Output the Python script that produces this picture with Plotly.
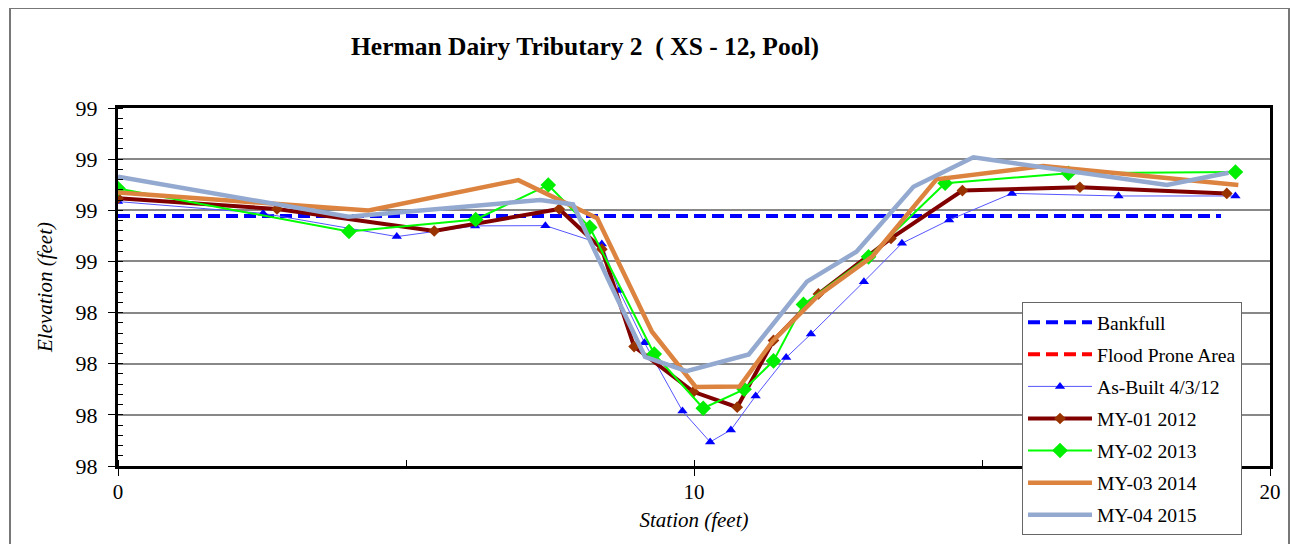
import plotly.graph_objects as go

# ---- data (station in feet, elevation in feet) ----
bankfull_x = [0, 19.15]
bankfull_y = [98.778, 98.778]

# flood prone elevation lies above the plotted range (not visible in the chart)
flood_x = [0, 19.15]
flood_y = [99.66, 99.66]

asbuilt_x = [0, 2.52, 4.84, 6.20, 7.42, 8.40, 8.70, 9.14, 9.80, 10.28, 10.64, 11.07,
             11.60, 12.03, 12.95, 13.61, 14.43, 15.52, 17.37, 19.40]
asbuilt_y = [98.834, 98.788, 98.697, 98.739, 98.740, 98.668, 98.486, 98.282, 98.015,
             97.894, 97.941, 98.074, 98.224, 98.316, 98.521, 98.671, 98.762, 98.866,
             98.856, 98.856]

my01_x = [0, 2.76, 5.49, 7.66, 8.40, 8.96, 9.99, 10.75, 11.38, 12.16, 13.42, 14.66, 16.70, 19.25]
my01_y = [98.847, 98.805, 98.719, 98.805, 98.648, 98.267, 98.090, 98.030, 98.291, 98.473,
          98.690, 98.877, 98.890, 98.866]

my02_x = [0, 4.01, 6.21, 7.47, 8.19, 9.31, 10.16, 10.87, 11.38, 11.90, 13.03, 14.36, 16.50, 19.40]
my02_y = [98.885, 98.717, 98.764, 98.899, 98.733, 98.238, 98.026, 98.100, 98.211, 98.432,
          98.618, 98.906, 98.945, 98.950]

my03_x = [0, 4.35, 6.95, 8.32, 9.27, 10.03, 10.79, 11.37, 12.15, 13.10, 14.21, 16.06, 19.45]
my03_y = [98.870, 98.799, 98.918, 98.769, 98.325, 98.109, 98.111, 98.289, 98.465, 98.620,
          98.921, 98.973, 98.899]

my04_x = [0, 4.00, 7.33, 7.90, 8.57, 9.15, 9.87, 10.95, 11.96, 12.82, 13.81, 14.85, 18.21, 19.28]
my04_y = [98.931, 98.775, 98.840, 98.823, 98.501, 98.227, 98.171, 98.236, 98.521, 98.638,
          98.892, 99.007, 98.899, 98.947]

y_ticks = [97.8, 98.0, 98.2, 98.4, 98.6, 98.8, 99.0, 99.2]
y_tick_labels = ["98", "98", "98", "98", "99", "99", "99", "99"]
x_ticks = [0, 10, 20]

FONT = "Liberation Serif, Times New Roman, DejaVu Serif, serif"

fig = go.Figure()

fig.add_trace(go.Scatter(x=bankfull_x, y=bankfull_y, mode="lines", name="Bankfull",
                         line=dict(color="#0000FF", width=4, dash="12px,6px"),
                         legendgroup="a"))
fig.add_trace(go.Scatter(x=flood_x, y=flood_y, mode="lines", name="Flood Prone Area",
                         line=dict(color="#FF0000", width=4, dash="12px,6px"),
                         legendgroup="b"))
fig.add_trace(go.Scatter(x=asbuilt_x, y=asbuilt_y, mode="lines+markers", name="As-Built 4/3/12",
                         line=dict(color="#5555FF", width=1),
                         marker=dict(symbol="triangle-up", size=9, color="#0000FF"),
                         legendgroup="c"))
fig.add_trace(go.Scatter(x=my01_x, y=my01_y, mode="lines+markers", name="MY-01 2012",
                         line=dict(color="#800000", width=4),
                         marker=dict(symbol="diamond", size=9, color="#993300"),
                         legendgroup="d"))
fig.add_trace(go.Scatter(x=my02_x, y=my02_y, mode="lines+markers", name="MY-02 2013",
                         line=dict(color="#00FF00", width=2),
                         marker=dict(symbol="diamond", size=12, color="#00EE00"),
                         legendgroup="e"))
fig.add_trace(go.Scatter(x=my03_x, y=my03_y, mode="lines", name="MY-03 2014",
                         line=dict(color="#DC843F", width=4.5),
                         legendgroup="f"))
fig.add_trace(go.Scatter(x=my04_x, y=my04_y, mode="lines", name="MY-04 2015",
                         line=dict(color="#93A9CF", width=4.5),
                         legendgroup="g"))

# page has an 8px body margin; lay out in page pixels
OFF = 8
L, T, W, H = 118 - OFF, 108 - OFF, 1152, 358
FW, FH = 1298 - OFF, 544 - OFF


def px2paper_x(px):
    return (px - OFF - L) / W


def px2paper_y(py):
    return (T + H - (py - OFF)) / H


fig.add_shape(type="rect", xref="paper", yref="paper",
              x0=px2paper_x(10), x1=px2paper_x(1289),
              y0=px2paper_y(600), y1=px2paper_y(8),
              line=dict(color="#777777", width=2), layer="below")

fig.update_layout(
    width=FW, height=FH,
    margin=dict(l=L, r=FW - L - W, t=T, b=FH - T - H, autoexpand=False),
    paper_bgcolor="white", plot_bgcolor="white",
    font=dict(family=FONT, color="black", size=21),
    title=dict(text="<b>Herman Dairy Tributary 2\u00a0 ( XS - 12, Pool)</b>",
               font=dict(family=FONT, size=25.5, color="black"),
               x=px2paper_x(585), xref="paper", xanchor="center",
               y=1 - (46 - OFF) / FH, yanchor="middle"),
    showlegend=True,
    legend=dict(x=px2paper_x(1022), y=px2paper_y(302), xanchor="left", yanchor="top",
                bgcolor="white", bordercolor="#666666", borderwidth=1,
                font=dict(family=FONT, size=19.6, color="black"),
                traceorder="grouped", tracegroupgap=3.6, itemwidth=64),
    xaxis=dict(range=[0, 20], tickvals=x_ticks, ticks="outside", ticklen=7, tickwidth=1,
               tickcolor="black", showgrid=False, zeroline=False,
               showline=True, linewidth=3, linecolor="black", mirror=True,
               minor=dict(dtick=5, ticks="inside", ticklen=6, tickcolor="black", showgrid=False),
               tickfont=dict(family=FONT, size=21), ticklabelstandoff=-2,
               title=dict(text="<i>Station (feet)</i>", font=dict(family=FONT, size=21), standoff=10)),
    yaxis=dict(range=[97.8, 99.2], tickvals=y_ticks, ticktext=y_tick_labels,
               ticks="outside", ticklen=7, tickwidth=1, tickcolor="black",
               showgrid=True, gridcolor="#888888", gridwidth=1.5, zeroline=False,
               showline=True, linewidth=3, linecolor="black", mirror=True,
               minor=dict(tickvals=[round(97.8 + 0.04 * i, 2) for i in range(36)],
                          ticks="inside", ticklen=5, tickcolor="black", showgrid=False),
               tickfont=dict(family=FONT, size=22), ticklabelstandoff=6,
               title=dict(text="<i>Elevation (feet)</i>", font=dict(family=FONT, size=21), standoff=18)),
)

fig.write_html("out.html")
